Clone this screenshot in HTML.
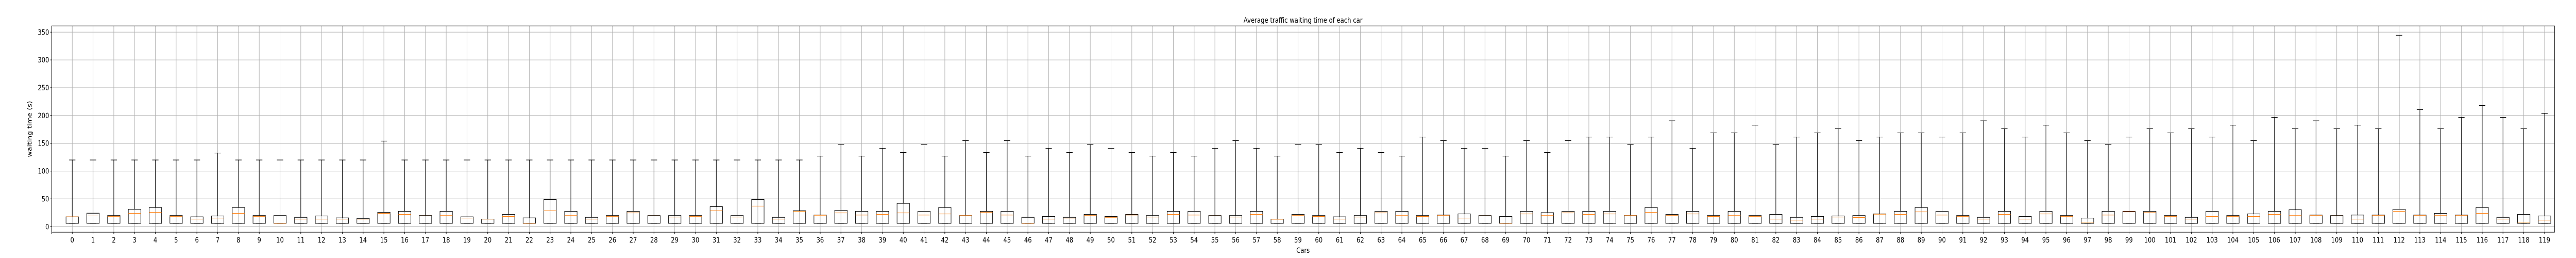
<!DOCTYPE html>
<html><head><meta charset="utf-8"><meta name="viewport" content="width=6000,height=500,initial-scale=1">
<style>
html,body{margin:0;padding:0;background:#fff;overflow:hidden;width:100%;height:100%;}
svg{display:block;position:absolute;left:0;top:0;width:100vw;height:100vh;font-family:"DejaVu Sans","Liberation Sans",sans-serif;}
</style></head><body>
<svg id="chart" viewBox="0 0 6000 500" preserveAspectRatio="none" xmlns="http://www.w3.org/2000/svg">
<rect width="6000" height="500" fill="#fff"/>
<text x="3035" y="44" font-size="14" text-anchor="middle" fill="#000">Average traffic waiting time of each car</text>
<text transform="translate(74,250) rotate(-90)" font-size="13.9" text-anchor="middle" fill="#000">waiting time (s)</text>
<text x="3035" y="490" font-size="13.9" text-anchor="middle" fill="#000">Cars</text>
<g id="grid"></g><g id="boxes"></g><g id="axes"></g>
</svg>
<script>
const cars = Array.from({length:120},(_,i)=>String(i));
const q1 = 6;
const q3Values = [17.7,24.2,20,31.4,34.5,20,17.7,19.3,34.5,20,20,16.8,19.3,15.8,14.9,25.8,27.6,20,27.6,17.7,13.7,22,15.8,49,27.6,16.8,20,27.6,20,20,20,36,20,49,16.8,28.6,21,29.5,
27.6,27.6,42,27.6,34.5,20,27.6,27.6,16.8,18.3,16.8,22,18.3,22,20,27.6,27.6,20,20,27.6,13.7,22,20,17.7,20,27.6,27.6,20,21,23,20,18.3,27.6,25.2,27.6,27.6,27.6,20,34.5,22,27.6,20,
27.6,20,22,16.8,18.3,19.3,20,23,27.6,34.5,27.6,20,16.8,27.6,18.3,27.6,20,15.5,27.6,27.6,27.6,20,16.8,27.6,20,23,27.6,30.4,21,20,21,21,31.4,21,24,21,34.5,16.8,22,19.3];
const medianValues = [17.7,19.3,18.6,24,25.8,18.6,13.7,15.5,24,18.6,6.2,13.7,13.7,13.7,13.7,24,22,19.3,20,15.5,13.7,18.3,6.2,28.6,20,13.7,18.6,24.8,19.3,17.4,18.6,28.6,17.4,37,13.7,27.6,20.5,24.8,
21,22,24.8,21,23,19.9,26,21,6.2,13.7,15.5,20,16.8,21,17.4,22,21,19.3,17.4,22,13.4,20,18.3,13.7,17.4,24.8,20,18.3,20,15.5,19.3,6.2,23,20,24.8,22,23,19.9,25.8,20,23,18.3,
20,18.6,13.7,11.8,13.7,17.4,16.5,22.4,22,26.7,21,18.6,13.7,22,13.7,23,18.6,8.1,21,26.7,25.2,18.6,13.7,18.3,18.6,18.3,22,20,20,19.3,13.7,20,27.6,20,20,20,24,13.7,8.1,11.8];
const whiskerValues = [120,120,120,120,120,120,120,132.5,120,120,120,120,120,120,120,154,120,120,120,120,120,120,120,120,120,120,120,120,120,120,120,120,120,120,120,120,127,148,
127,141,133.5,147.7,127,154.8,133.5,154.8,127,141,133.5,147.7,141,133.5,127,133.5,127,141,154.8,141,127,147.7,147.7,133.5,141,133.5,127,161.3,154.8,141,141,127,154.8,133.5,154.8,161.3,161.3,147.7,161.3,190.5,141,168.8,
168.8,182.7,147.7,161.3,168.8,176.2,154.8,161.3,168.8,168.8,161.3,168.8,190.5,176.2,161.3,182.7,168.8,154.8,147.7,161.3,176.2,168.8,176.2,161.3,182.7,154.8,196.7,176.2,190.5,176.2,182.7,176.2,344.4,210.6,176.2,196.7,218,196.7,176.2,204];
const yTicks = [0,50,100,150,200,250,300,350];

const NS="http://www.w3.org/2000/svg";
const L=120.5,R=5950,T=50.3,B=450;
const x = i => 168.3 + i*48.39;
const y = v => 439.3 - v*1.0771;
function mk(tag,attrs,parent){const e=document.createElementNS(NS,tag);for(const k in attrs)e.setAttribute(k,attrs[k]);parent.appendChild(e);return e;}
const grid=document.getElementById('grid'),boxes=document.getElementById('boxes'),axes=document.getElementById('axes');
yTicks.forEach(t=>{
  const g=mk('line',{x1:L,x2:R,y1:y(t),y2:y(t),stroke:'#b0b0b0','stroke-width':1.1},grid);
  
  
  const tk=mk('line',{x1:L-3.5,x2:L,y1:y(t),y2:y(t),stroke:'#000','stroke-width':1.1},axes);
  
  
  const lb=mk('text',{x:L-6,y:y(t)+5,'font-size':13.9,'text-anchor':'end',fill:'#000'},axes);
  lb.textContent=t;
  
  
});
const lt=mk('line',{x1:L,x2:L,y1:B,y2:B+3.5,stroke:'#000','stroke-width':1.1},axes);


cars.forEach((c,i)=>{
  const cx=x(i);
  const g=mk('line',{x1:cx,x2:cx,y1:T,y2:B,stroke:'#b0b0b0','stroke-width':1.1},grid);
  
  
  const tk=mk('line',{x1:cx,x2:cx,y1:B,y2:B+3.5,stroke:'#000','stroke-width':1.1},axes);
  
  
  const lb=mk('text',{x:cx,y:B+20,'font-size':13.9,'text-anchor':'middle',fill:'#000'},axes);
  lb.textContent=c;
  
  
  const grp=mk('g',{},boxes);
  
  
  const hw=14.5, cw=7.3;
  mk('line',{x1:cx,x2:cx,y1:y(q3Values[i]),y2:y(whiskerValues[i]),stroke:'#000','stroke-width':1.1},grp);
  mk('line',{x1:cx-cw,x2:cx+cw,y1:y(whiskerValues[i]),y2:y(whiskerValues[i]),stroke:'#000','stroke-width':1.1},grp);
  mk('line',{x1:cx-cw,x2:cx+cw,y1:y(q1),y2:y(q1),stroke:'#000','stroke-width':1.1},grp);
  mk('rect',{x:cx-hw,y:y(q3Values[i]),width:hw*2,height:y(q1)-y(q3Values[i]),fill:'none',stroke:'#000','stroke-width':1.1},grp);
  mk('line',{x1:cx-hw,x2:cx+hw,y1:y(medianValues[i]),y2:y(medianValues[i]),stroke:'#ff7f0e','stroke-width':1.1},grp);
});
const fr=mk('rect',{x:L,y:T,width:R-L,height:B-T,fill:'none',stroke:'#000','stroke-width':1.1},axes);


</script>
</body></html>
